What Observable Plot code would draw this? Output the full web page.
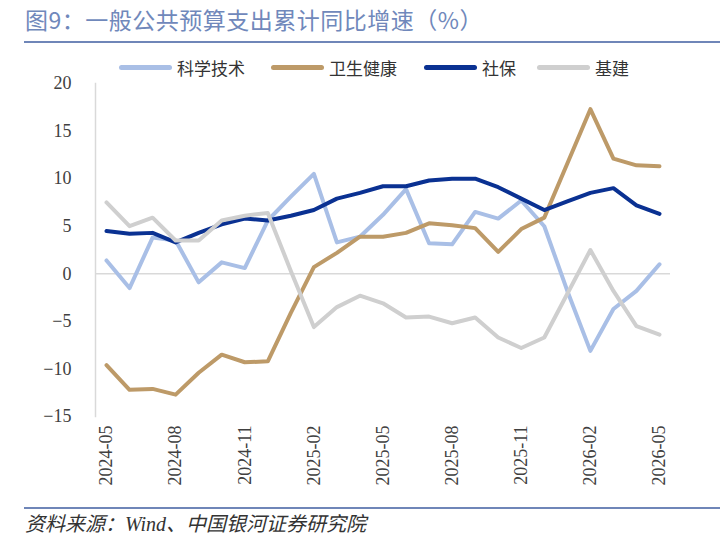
<!DOCTYPE html>
<html lang="zh-CN">
<head>
<meta charset="utf-8">
<script src="https://cdn.jsdelivr.net/npm/d3@7"></script>
<script src="https://cdn.jsdelivr.net/npm/@observablehq/plot@0.6"></script>
<style>
  html, body { margin: 0; padding: 0; background: #fff; }
  #wrap { position: relative; width: 722px; height: 556px; overflow: hidden; font-family: "Noto Sans CJK SC", sans-serif; }
  #title { position: absolute; left: 25px; top: 2px; font-size: 23px; color: #7088bb; white-space: nowrap; letter-spacing: 0.5px; }
  .hr { position: absolute; left: 24px; width: 696px; height: 2px; background: #6f86b8; }
  #legend { position: absolute; left: 0; top: 55px; width: 722px; height: 24px; }
  .li { position: absolute; top: 0; display: flex; align-items: center; height: 24px; font-size: 17px; color: #333; white-space: nowrap; }
  .sw { display: inline-block; width: 53px; height: 5px; border-radius: 3px; margin-right: 5px; }
  #chart { position: absolute; left: 0; top: 75px; }
  #chart svg { overflow: visible; }
  #source { position: absolute; left: 25px; top: 508px; font-size: 20px; color: #333; font-style: italic; white-space: nowrap; font-family: "Liberation Serif", "Noto Sans CJK SC", serif; }
</style>
</head>
<body>
<div id="wrap">
  <div id="title">图9：一般公共预算支出累计同比增速（%）</div>
  <div class="hr" style="top:41px"></div>
  <div id="chart"></div>
  <div id="legend"></div>
  <div class="hr" style="top:507px"></div>
  <div id="source">资料来源：Wind、中国银河证券研究院</div>
</div>
<script>
const months = ["2024-05","2024-06","2024-07","2024-08","2024-09","2024-10","2024-11","2024-12",
  "2025-01","2025-02","2025-03","2025-04","2025-05","2025-06","2025-07","2025-08","2025-09","2025-10",
  "2025-11","2025-12","2026-01","2026-02","2026-03","2026-04","2026-05"];
const seriesNames = ["科学技术","卫生健康","社保","基建"];
const seriesColors = ["#a9bfe6","#bd9a68","#0a3192","#cfcfcf"];
const sciTech = [1.4,-1.5,3.8,3.5,-0.9,1.2,0.6,5.6,8.1,10.5,3.3,3.9,6.2,8.9,3.2,3.1,6.5,5.8,7.7,5.0,-1.8,-8.1,-3.7,-1.8,1.0];
const health  = [-9.6,-12.2,-12.1,-12.7,-10.4,-8.5,-9.3,-9.2,-4.1,0.7,2.2,3.9,3.9,4.3,5.3,5.1,4.8,2.3,4.7,5.9,11.6,17.3,12.1,11.4,11.3];
const social  = [4.5,4.2,4.3,3.3,4.3,5.2,5.8,5.6,6.1,6.7,7.9,8.5,9.2,9.2,9.8,10.0,10.0,9.1,7.9,6.7,7.6,8.5,9.0,7.2,6.3];
const infra   = [7.5,5.0,5.9,3.5,3.5,5.6,6.1,6.4,0.3,-5.6,-3.5,-2.3,-3.1,-4.6,-4.5,-5.2,-4.6,-6.7,-7.8,-6.7,-2.1,2.5,-1.8,-5.5,-6.4];
const yTicks = [-15,-10,-5,0,5,10,15,20];
const xTickIdx = [0,3,6,9,12,15,18,21,24];

const allSeries = [sciTech, health, social, infra];
const data = [];
allSeries.forEach((vals, s) => vals.forEach((v, i) => data.push({i, v, s: seriesNames[s]})));

// legend
const legendX = [119, 271, 424, 537];
const lg = document.getElementById("legend");
seriesNames.forEach((n, k) => {
  const d = document.createElement("div");
  d.className = "li";
  d.style.left = legendX[k] + "px";
  d.innerHTML = `<span class="sw" style="background:${seriesColors[k]}"></span><span>${n}</span>`;
  lg.appendChild(d);
});

const chart = Plot.plot({
  width: 722,
  height: 430,
  marginTop: 8,
  marginBottom: 89,
  marginLeft: 95,
  marginRight: 52,
  style: {fontFamily: "'Liberation Serif', serif", fontSize: "16px", color: "#404040", background: "transparent", overflow: "visible"},
  x: {domain: [0, 24], insetLeft: 11, insetRight: 11},
  y: {domain: [-15, 20]},
  color: {domain: seriesNames, range: seriesColors},
  marks: [
    Plot.frame({anchor: "left", stroke: "#d9d9d9", strokeWidth: 1.5}),
    Plot.ruleY([0], {stroke: "#d9d9d9", strokeWidth: 1.5}),
    Plot.axisY({ticks: yTicks, tickSize: 0, tickPadding: 24, label: null, fontSize: 18}),
    Plot.axisX({ticks: xTickIdx, tickFormat: i => months[i], tickRotate: -90, tickSize: 0, tickPadding: 9, label: null, fontSize: 18}),
    Plot.line(data, {x: "i", y: "v", z: "s", stroke: "s", strokeWidth: 4, strokeLinejoin: "round", strokeLinecap: "round"})
  ]
});
document.getElementById("chart").appendChild(chart);
</script>
</body>
</html>
